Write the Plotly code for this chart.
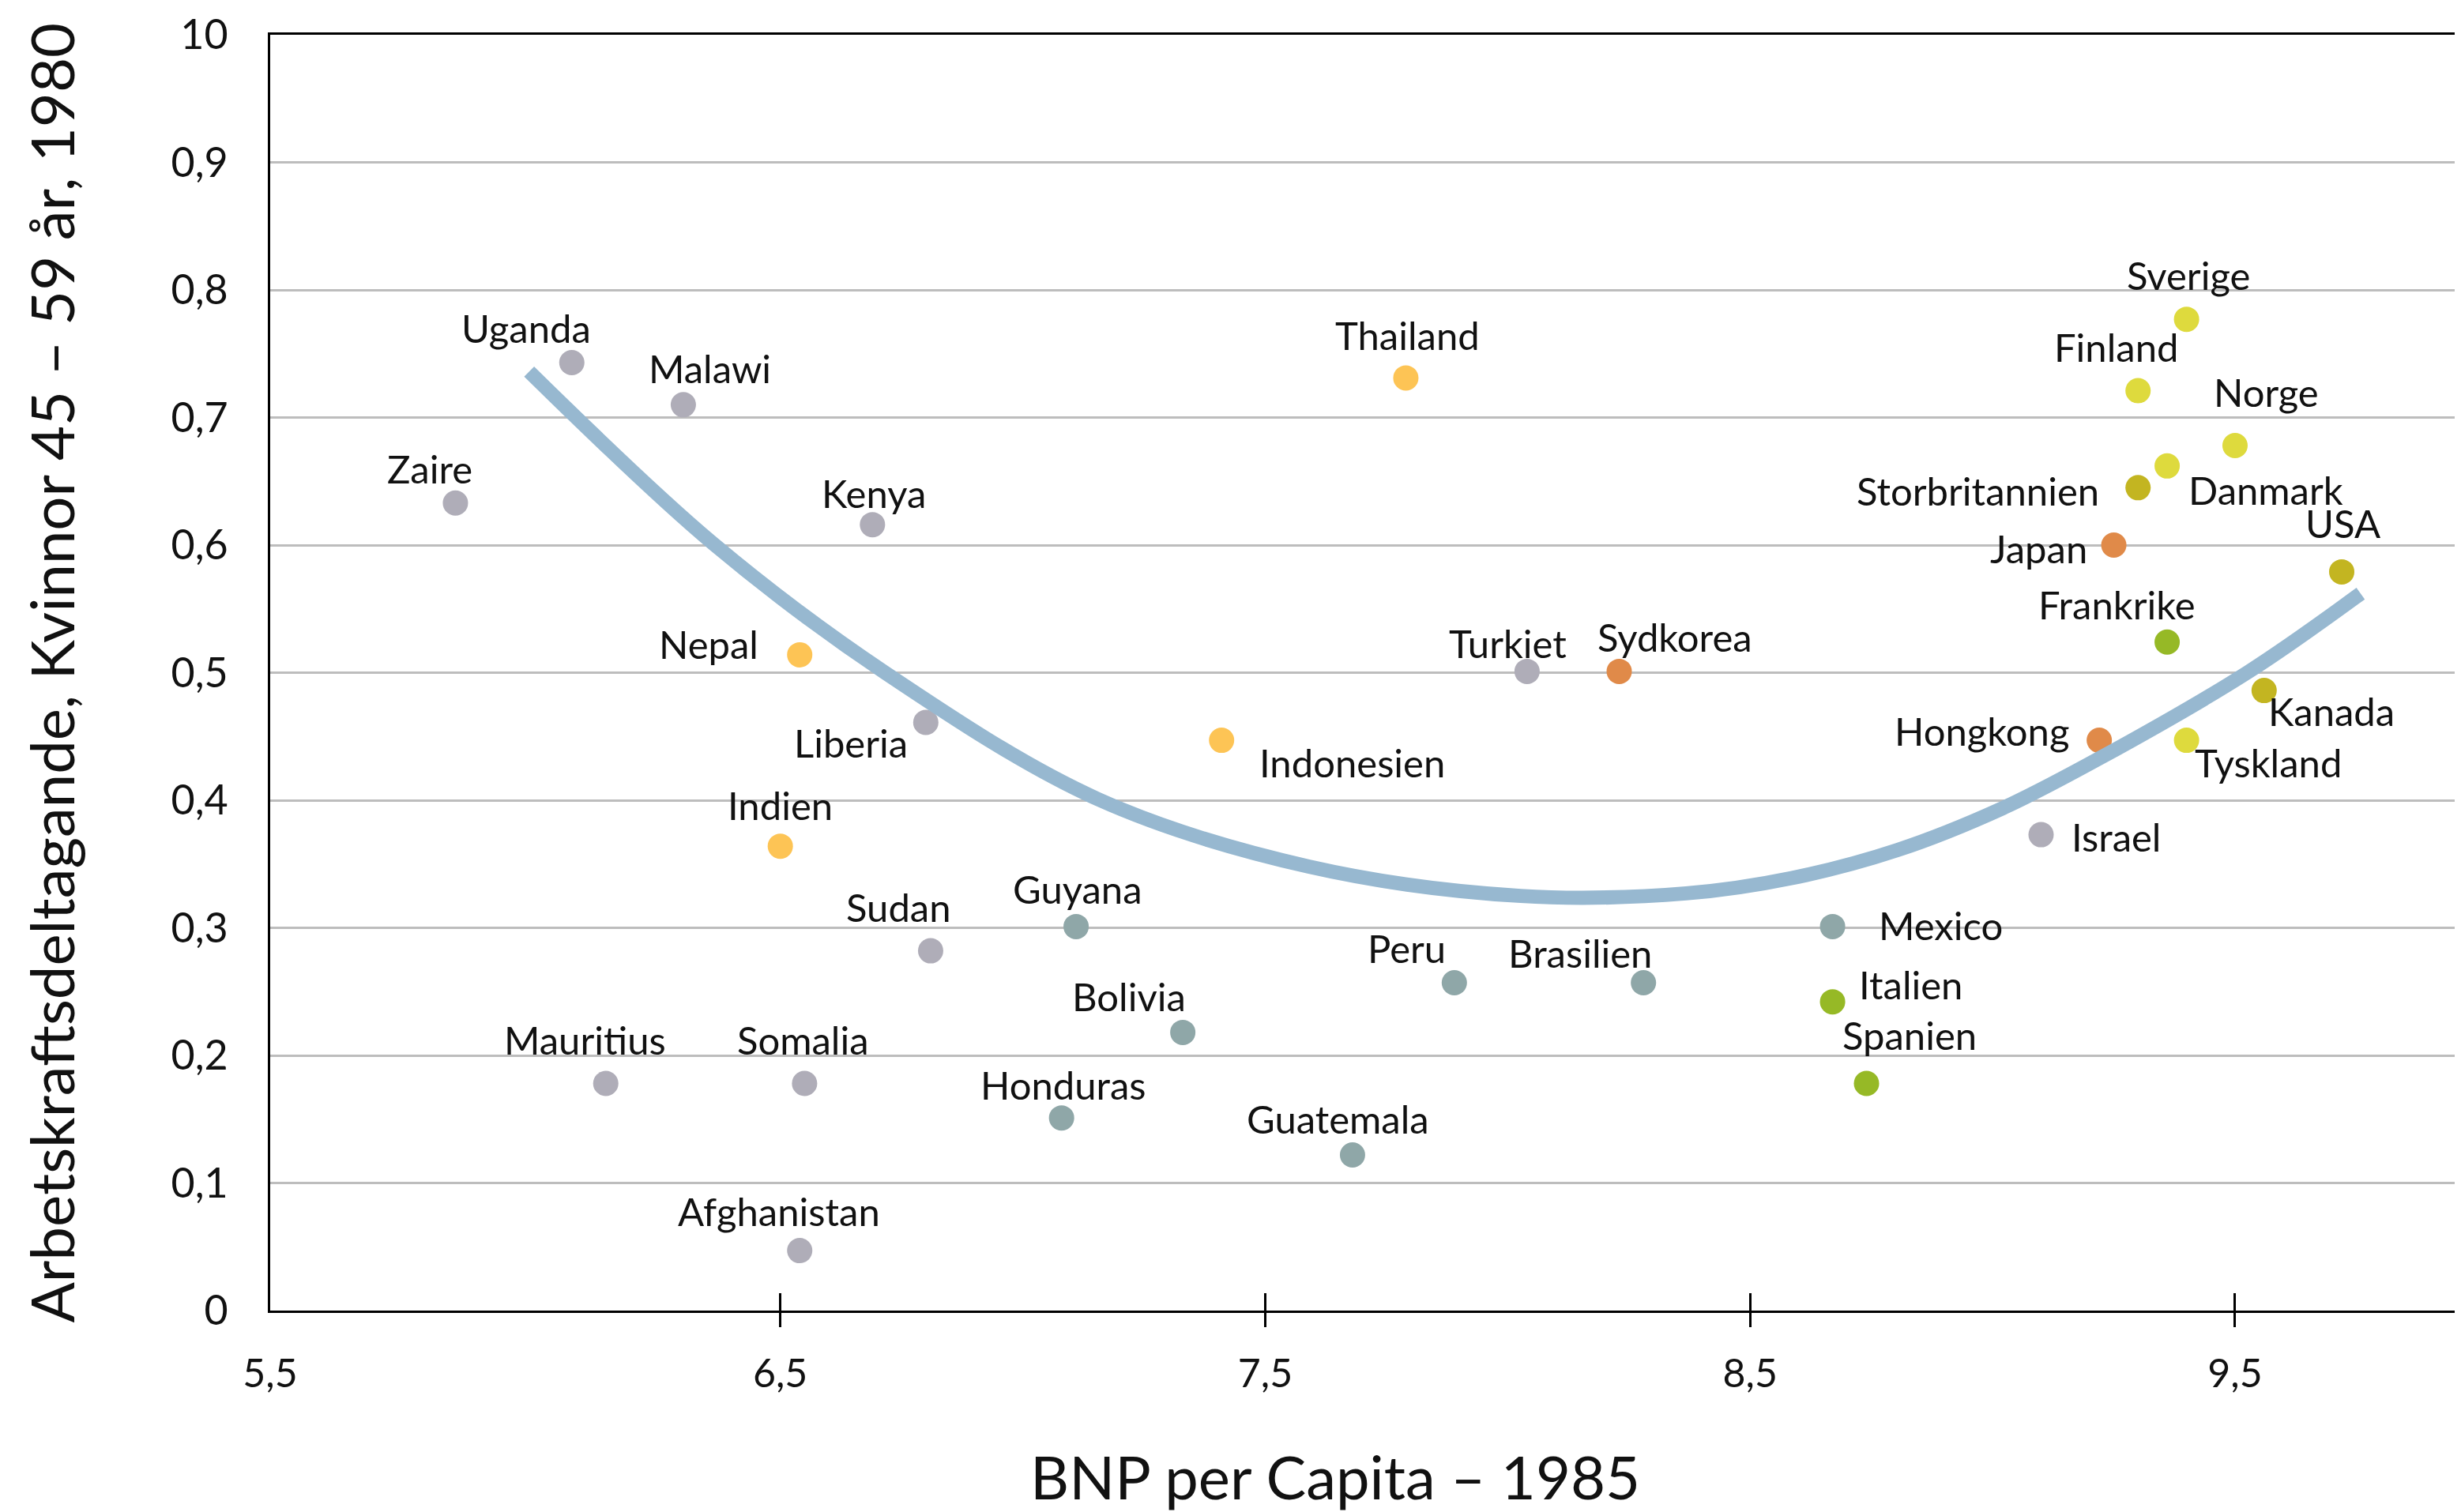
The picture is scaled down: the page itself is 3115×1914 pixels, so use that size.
import plotly.graph_objects as go

# Länder, BNP per capita 1985 (x) och arbetskraftsdeltagande 1980 (y)
lander = [
    "Uganda", "Malawi", "Zaire", "Kenya", "Liberia", "Sudan", "Mauritius",
    "Somalia", "Afghanistan", "Turkiet", "Israel",
    "Nepal", "Indien", "Thailand", "Indonesien",
    "Guyana", "Bolivia", "Honduras", "Guatemala", "Peru", "Brasilien", "Mexico",
    "Sydkorea", "Japan", "Hongkong",
    "Italien", "Spanien", "Frankrike",
    "Sverige", "Finland", "Norge", "Danmark", "Tyskland",
    "Storbritannien", "USA", "Kanada",
]
bnp_1985 = [
    6.07, 6.30, 5.83, 6.69, 6.80, 6.81, 6.14,
    6.55, 6.54, 8.04, 9.10,
    6.54, 6.50, 7.79, 7.41,
    7.11, 7.33, 7.08, 7.68, 7.89, 8.28, 8.67,
    8.23, 9.25, 9.22,
    8.67, 8.74, 9.36,
    9.40, 9.30, 9.50, 9.36, 9.40,
    9.30, 9.72, 9.56,
]
deltagande_1980 = [
    0.743, 0.710, 0.633, 0.616, 0.461, 0.282, 0.178,
    0.178, 0.047, 0.501, 0.373,
    0.514, 0.364, 0.731, 0.447,
    0.301, 0.218, 0.151, 0.122, 0.257, 0.257, 0.301,
    0.501, 0.600, 0.447,
    0.242, 0.178, 0.524,
    0.777, 0.721, 0.678, 0.662, 0.447,
    0.645, 0.579, 0.486,
]
grupp = (
    ["afrika"] * 11
    + ["sydasien"] * 4
    + ["latinamerika"] * 7
    + ["ostasien"] * 3
    + ["sydeuropa"] * 3
    + ["norden"] * 5
    + ["anglo"] * 3
)

# trendkurvan, avläst längs linjen
trend_x = [5.982, 6.362, 6.716, 7.154, 7.590, 8.027, 8.368, 8.586, 8.804,
           9.022, 9.221, 9.525, 9.759]
trend_y = [0.736, 0.601, 0.500, 0.401, 0.348, 0.325, 0.327, 0.339, 0.361,
           0.394, 0.433, 0.500, 0.562]

x_ticks = [6.5, 7.5, 8.5, 9.5]
x_ticktext = ["6,5", "7,5", "8,5", "9,5"]
y_ticks = [0, 0.1, 0.2, 0.3, 0.4, 0.5, 0.6, 0.7, 0.8, 0.9, 1.0]
y_ticktext = ["0", "0,1", "0,2", "0,3", "0,4", "0,5", "0,6", "0,7", "0,8", "0,9", "10"]

farger = {
    "afrika": "#AFADB8",
    "sydasien": "#FDC455",
    "latinamerika": "#8FA7A8",
    "ostasien": "#E08A49",
    "sydeuropa": "#96B926",
    "norden": "#DEDA3D",
    "anglo": "#C3B521",
}

# etikettförskjutning i pixlar (xshift, yshift)
etikett_pos = {
    "Uganda": (-58, 44), "Malawi": (34, 46), "Zaire": (-32, 44),
    "Kenya": (2, 40), "Liberia": (-95, -26), "Sudan": (-40, 56),
    "Mauritius": (-26, 56), "Somalia": (-2, 56), "Afghanistan": (-26, 50),
    "Turkiet": (-24, 36), "Israel": (95, -2), "Nepal": (-115, 14),
    "Indien": (0, 52), "Thailand": (2, 54), "Indonesien": (165, -28),
    "Guyana": (2, 48), "Bolivia": (-68, 46), "Honduras": (2, 42),
    "Guatemala": (-18, 46), "Peru": (-60, 44), "Brasilien": (-80, 38),
    "Mexico": (137, 2), "Sydkorea": (70, 44), "Japan": (-95, -4),
    "Hongkong": (-149, 12), "Italien": (99, 22), "Spanien": (54, 62),
    "Frankrike": (-64, 48), "Sverige": (2, 56), "Finland": (-28, 56),
    "Norge": (40, 68), "Danmark": (125, -30), "Tyskland": (103, -28),
    "Storbritannien": (-203, -4), "USA": (2, 62), "Kanada": (85, -26),
}

FONT = "Lato, 'Open Sans', sans-serif"
X_RANGE = [5.448, 9.966]

fig = go.Figure()

fig.add_trace(go.Scatter(
    x=bnp_1985,
    y=deltagande_1980,
    mode="markers",
    marker=dict(size=32, color=[farger[g] for g in grupp], line=dict(width=0)),
    text=lander,
    hovertemplate="%{text}: %{x}, %{y}<extra></extra>",
    xaxis="x2",
    showlegend=False,
))

fig.add_trace(go.Scatter(
    x=trend_x,
    y=trend_y,
    mode="lines",
    line=dict(color="#97B8D0", width=18, shape="spline", smoothing=1),
    hoverinfo="skip",
    xaxis="x3",
    showlegend=False,
))

for land, bx, dy in zip(lander, bnp_1985, deltagande_1980):
    xs, ys = etikett_pos[land]
    fig.add_annotation(
        x=bx, y=dy, xref="x", yref="y", text=land, showarrow=False,
        xshift=xs, yshift=ys, xanchor="center", yanchor="middle",
        font=dict(family=FONT, size=49, color="#111111"),
    )

# axeltitlar
fig.add_annotation(
    x=0.486, y=0, xref="paper", yref="paper", yshift=-209,
    text="BNP per Capita – 1985", showarrow=False,
    xanchor="center", yanchor="middle",
    font=dict(family=FONT, size=76, color="#111111"),
)
fig.add_annotation(
    x=0, y=0.5, xref="paper", yref="paper", xshift=-278,
    text="Arbetskraftsdeltagande, Kvinnor 45 – 59 år, 1980", showarrow=False,
    textangle=-90, xanchor="center", yanchor="middle",
    font=dict(family=FONT, size=76, color="#111111"),
)

# sidans marginal (8 px) dras av så att figuren fyller fönstret
fig.update_layout(
    width=3107,
    height=1906,
    margin=dict(l=334, r=0, t=36, b=255),
    template="none",
    paper_bgcolor="white",
    plot_bgcolor="white",
    font=dict(family=FONT, size=50, color="#111111"),
    xaxis=dict(
        range=X_RANGE,
        tickvals=[X_RANGE[0]] + x_ticks,
        ticktext=["5,5"] + x_ticktext,
        ticks="",
        ticklabelstandoff=34,
        tickfont=dict(size=50),
        showgrid=False,
        zeroline=False,
        showline=True,
        linecolor="black",
        linewidth=3,
        mirror=True,
    ),
    xaxis2=dict(
        overlaying="x", matches="x", anchor="y", side="bottom",
        tickvals=x_ticks, ticks="outside", ticklen=20, tickwidth=3,
        tickcolor="black", showticklabels=False, showgrid=False,
        zeroline=False, showline=False,
    ),
    xaxis3=dict(
        overlaying="x", matches="x", anchor="y", side="bottom",
        tickvals=x_ticks, ticks="inside", ticklen=22, tickwidth=3,
        tickcolor="black", showticklabels=False, showgrid=False,
        zeroline=False, showline=False,
    ),
    yaxis=dict(
        range=[0, 1.0],
        tickvals=y_ticks,
        ticktext=y_ticktext,
        ticks="",
        ticklabelstandoff=40,
        tickfont=dict(size=52),
        showgrid=True,
        gridcolor="#BDBDBD",
        gridwidth=3,
        zeroline=False,
        showline=True,
        linecolor="black",
        linewidth=3,
    ),
)

fig.write_html("out.html")
